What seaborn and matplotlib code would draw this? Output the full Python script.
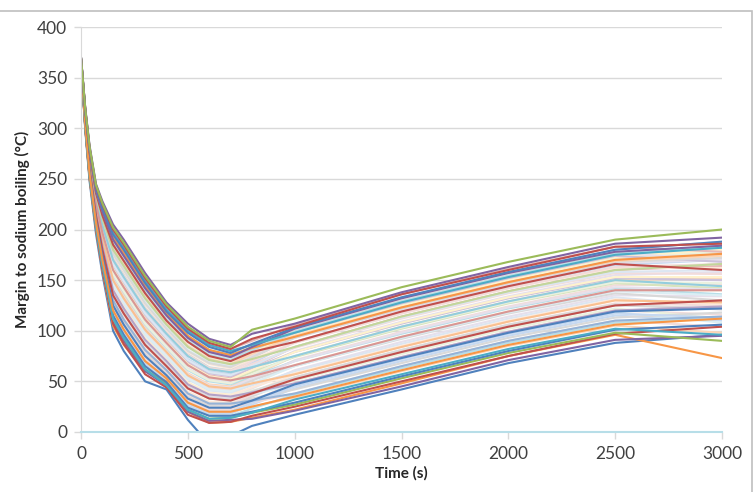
import pandas as pd
import matplotlib.pyplot as plt
import seaborn as sns
from matplotlib.patches import Rectangle

# time axis of every run (s)
time_s = [0, 20, 40, 70, 100, 150, 200, 300, 400, 500, 600, 700, 800, 1000, 1500, 2000, 2500, 3000]

# margin to sodium boiling (degC), pale runs filling the band
pale_runs = [
    [366, 302, 254, 206, 168, 117, 98, 67, 49, 26, 18, 18, 27, 43, 70, 95, 115, 110],
    [366, 303, 256, 208, 172, 122, 103, 72, 54, 31, 22, 22, 31, 48, 74, 99, 120, 116],
    [366, 304, 257, 210, 175, 127, 108, 78, 58, 35, 26, 26, 35, 52, 79, 104, 125, 122],
    [366, 305, 259, 212, 178, 132, 114, 83, 63, 40, 30, 29, 39, 57, 84, 109, 130, 128],
    [367, 306, 260, 214, 180, 135, 117, 86, 65, 43, 33, 31, 37, 47, 73, 98, 118, 108],
    [367, 306, 261, 215, 182, 137, 119, 88, 67, 45, 35, 33, 43, 61, 89, 114, 135, 134],
    [367, 307, 262, 216, 184, 140, 122, 91, 70, 47, 37, 35, 41, 51, 77, 102, 122, 112],
    [367, 307, 262, 217, 185, 142, 124, 93, 72, 49, 39, 37, 47, 66, 94, 119, 140, 140],
    [367, 308, 263, 218, 187, 145, 127, 96, 74, 52, 41, 39, 46, 60, 87, 112, 133, 124],
    [367, 308, 264, 219, 189, 147, 129, 98, 76, 54, 43, 41, 51, 71, 99, 124, 145, 146],
    [367, 309, 265, 220, 191, 150, 132, 101, 79, 56, 45, 43, 51, 65, 92, 117, 137, 130],
    [367, 309, 266, 221, 192, 152, 135, 103, 81, 58, 47, 45, 55, 75, 104, 129, 150, 152],
    [368, 310, 267, 223, 194, 155, 138, 106, 83, 61, 50, 47, 55, 70, 97, 122, 142, 136],
    [368, 310, 267, 224, 195, 157, 140, 108, 85, 63, 52, 49, 60, 80, 109, 134, 155, 158],
    [368, 311, 268, 225, 197, 160, 143, 111, 88, 66, 54, 51, 59, 74, 102, 127, 147, 142],
    [368, 311, 269, 226, 199, 162, 145, 113, 90, 68, 56, 53, 64, 84, 114, 139, 160, 164],
    [368, 312, 270, 227, 201, 165, 148, 116, 92, 70, 58, 55, 63, 79, 107, 132, 152, 150],
    [368, 312, 270, 228, 202, 167, 150, 118, 94, 72, 60, 57, 68, 89, 119, 144, 165, 170],
    [368, 313, 271, 229, 204, 170, 153, 121, 97, 75, 62, 59, 67, 83, 112, 137, 157, 156],
    [368, 313, 272, 230, 206, 172, 156, 123, 99, 77, 64, 61, 73, 94, 123, 148, 170, 176],
    [369, 314, 273, 232, 208, 175, 159, 126, 101, 79, 67, 63, 72, 88, 117, 142, 162, 162],
    [369, 314, 274, 233, 209, 177, 161, 129, 103, 81, 69, 65, 77, 98, 128, 153, 175, 182],
    [369, 315, 275, 234, 211, 180, 164, 132, 106, 84, 71, 67, 76, 93, 121, 146, 167, 170],
    [369, 315, 275, 235, 212, 182, 166, 134, 108, 86, 73, 68, 78, 97, 126, 151, 172, 178],
    [369, 316, 276, 236, 214, 185, 169, 137, 110, 89, 75, 70, 79, 96, 125, 150, 173, 180],
    [369, 316, 277, 237, 216, 187, 171, 139, 112, 91, 77, 72, 83, 103, 133, 158, 180, 188],
    [366, 304, 257, 209, 174, 125, 106, 75, 56, 33, 24, 24, 29, 38, 65, 90, 110, 104],
    [366, 305, 258, 211, 177, 130, 111, 81, 61, 38, 28, 28, 33, 42, 68, 93, 113, 118],
    [366, 303, 255, 207, 170, 120, 101, 70, 52, 29, 20, 20, 25, 34, 60, 85, 105, 98],
    [366, 302, 253, 205, 167, 115, 96, 65, 47, 24, 16, 16, 23, 37, 63, 88, 108, 112],
    [370, 318, 280, 241, 221, 195, 180, 147, 119, 98, 84, 78, 86, 100, 130, 155, 177, 170],
    [369, 317, 279, 239, 219, 192, 177, 144, 117, 95, 81, 76, 84, 99, 129, 154, 176, 184],
    [370, 319, 281, 243, 225, 200, 185, 152, 124, 102, 88, 82, 90, 106, 136, 161, 183, 178],
    [369, 317, 278, 238, 218, 190, 174, 142, 115, 93, 79, 74, 81, 98, 127, 152, 174, 168],
    [366, 302, 255, 207, 170, 119, 100, 69, 51, 28, 20, 20, 29, 45, 72, 97, 117, 113],
    [366, 304, 258, 211, 176, 129, 111, 80, 60, 37, 28, 27, 37, 54, 81, 106, 127, 125],
    [367, 306, 260, 214, 181, 136, 118, 87, 66, 44, 34, 32, 40, 54, 81, 106, 126, 121],
    [367, 307, 262, 216, 184, 141, 123, 92, 71, 48, 38, 36, 44, 58, 85, 110, 131, 126],
    [367, 308, 263, 218, 188, 146, 128, 97, 75, 53, 42, 40, 48, 65, 93, 118, 139, 135],
    [367, 309, 265, 220, 191, 151, 133, 102, 80, 57, 46, 44, 53, 70, 98, 123, 143, 141],
    [368, 310, 267, 223, 194, 156, 139, 107, 84, 62, 51, 48, 57, 75, 103, 128, 148, 147],
    [368, 311, 268, 225, 198, 161, 144, 112, 89, 67, 55, 52, 61, 79, 108, 133, 153, 153],
    [368, 312, 270, 227, 201, 166, 149, 117, 93, 71, 59, 56, 65, 84, 113, 138, 158, 160],
    [368, 313, 271, 229, 205, 171, 154, 122, 98, 76, 63, 60, 70, 88, 117, 142, 163, 166],
    [369, 314, 273, 232, 208, 176, 160, 127, 102, 80, 68, 64, 74, 93, 122, 147, 168, 172],
    [369, 315, 275, 234, 211, 181, 165, 133, 107, 85, 72, 67, 77, 95, 123, 148, 169, 174],
    [369, 316, 276, 236, 215, 186, 170, 138, 111, 90, 76, 71, 81, 99, 129, 154, 176, 184],
]
pale_palette = ['#C6D9F1', '#F2DCDB', '#D9D9D9', '#FDE9D9', '#DBEEF4', '#E6E0EC',
                '#EBF1DE', '#FFF2CC', '#DCE6F2', '#F2DCDB', '#D9D9D9', '#FCD5B5',
                '#B7DEE8', '#E6E0EC', '#D7E4BD', '#E6B9B8', '#CCC1DA']

# runs in mid tints, plus two strong ones inside the band
mid_runs = [
    [367, 309, 265, 220, 191, 150, 132, 101, 79, 56, 45, 43, 48, 57, 84, 109, 130, 128],
    [368, 313, 271, 229, 204, 170, 153, 121, 97, 75, 62, 59, 64, 75, 104, 129, 150, 144],
    [368, 311, 268, 225, 197, 160, 143, 111, 88, 66, 54, 51, 55, 66, 94, 119, 140, 140],
    [367, 307, 262, 216, 184, 140, 122, 91, 70, 47, 37, 35, 39, 48, 74, 99, 120, 124],
    [369, 315, 275, 234, 211, 180, 164, 132, 106, 84, 71, 67, 72, 84, 114, 139, 160, 166],
    [366, 305, 258, 211, 177, 130, 111, 81, 61, 38, 28, 28, 31, 38, 65, 90, 110, 114],
    [367, 306, 260, 214, 180, 135, 117, 86, 65, 43, 33, 31, 38, 52, 79, 104, 125, 130],
    [366, 304, 257, 209, 174, 125, 106, 75, 56, 33, 24, 24, 31, 47, 73, 98, 119, 122],
]
mid_colors = ['#FAC090', '#93CDDD', '#D99694', '#B3A2C7', '#C3D69B', '#95B3D7',
              '#C0504D', '#4F81BD']

# runs along the lower and upper edges of the band
edge_runs = [
    [365, 298, 248, 196, 156, 100, 80, 50, 42, 12, -12, -4, 6, 17, 42, 68, 88, 96],
    [365, 300, 250, 200, 160, 105, 86, 60, 50, 20, 9, 10, 14, 22, 48, 75, 96, 73],
    [365, 301, 252, 202, 163, 110, 90, 60, 46, 20, 11, 12, 13, 21, 45, 71, 91, 95],
    [365, 300, 251, 201, 161, 107, 87, 57, 44, 17, 9, 10, 16, 25, 50, 75, 97, 104],
    [365, 301, 252, 203, 165, 112, 93, 62, 47, 22, 13, 14, 19, 27, 53, 78, 98, 90],
    [366, 302, 253, 205, 167, 115, 96, 65, 49, 24, 16, 16, 20, 29, 55, 80, 101, 106],
    [365, 301, 252, 203, 165, 112, 93, 62, 46, 22, 13, 14, 19, 32, 57, 82, 102, 96],
    [366, 303, 255, 207, 170, 120, 101, 70, 53, 29, 20, 20, 25, 35, 61, 86, 106, 112],
    [369, 316, 276, 236, 214, 185, 169, 137, 110, 89, 75, 70, 79, 89, 119, 144, 166, 160],
    [369, 317, 279, 239, 219, 192, 177, 144, 117, 95, 81, 76, 83, 94, 123, 148, 170, 176],
    [369, 317, 278, 238, 218, 190, 174, 142, 115, 93, 79, 74, 84, 102, 132, 157, 178, 184],
    [370, 318, 280, 242, 223, 197, 182, 149, 121, 100, 86, 80, 86, 98, 128, 153, 175, 182],
    [370, 318, 280, 241, 221, 195, 180, 147, 119, 98, 84, 78, 87, 103, 133, 158, 180, 188],
    [370, 319, 281, 243, 225, 200, 185, 152, 124, 102, 88, 82, 92, 104, 136, 160, 183, 186],
    [370, 320, 283, 245, 228, 205, 190, 157, 128, 107, 92, 86, 97, 107, 138, 163, 186, 192],
    [370, 319, 282, 244, 226, 202, 187, 154, 126, 104, 90, 84, 101, 112, 143, 168, 190, 200],
]
edge_colors = ['#4F81BD', '#F79646', '#8064A2', '#C0504D', '#9BBB59', '#4F81BD',
               '#4BACC6', '#F79646', '#C0504D', '#F79646', '#8064A2', '#4BACC6',
               '#4F81BD', '#C0504D', '#8064A2', '#9BBB59']

pale_colors = (pale_palette * 3)[:len(pale_runs)]

# long table for seaborn, drawn in the order above
rows = []
palette = {}
order = []
for runs, cols in [(pale_runs, pale_colors), (mid_runs, mid_colors), (edge_runs, edge_colors)]:
    for vals, c in zip(runs, cols):
        name = 'run %d' % (len(order) + 1)
        order.append(name)
        palette[name] = c
        for t, v in zip(time_s, vals):
            rows.append((name, t, v))
df = pd.DataFrame(rows, columns=['run', 'time', 'margin'])

sns.set_style('white')
plt.rcParams['font.family'] = ['Lato', 'DejaVu Sans']

fig = plt.figure(figsize=(7.55, 4.92), dpi=100)
ax = fig.add_axes([0.1073, 0.122, 0.849, 0.823])
ax.yaxis.grid(True, color='#D9D9D9', linewidth=1)
ax.set_axisbelow(True)

sns.lineplot(data=df, x='time', y='margin', hue='run', hue_order=order, palette=palette,
             estimator=None, sort=False, legend=False, linewidth=1.5, ax=ax)

ax.set_xlim(0, 3000)
ax.set_ylim(0, 400)
ax.set_xticks(range(0, 3001, 500))
ax.set_yticks(range(0, 401, 50))
ax.tick_params(axis='both', labelsize=12.5, labelcolor='#404040', color='#D9D9D9',
               direction='out', length=5, width=1, pad=5)
ax.tick_params(axis='x', bottom=True)
ax.tick_params(axis='y', left=True)
for s in ['top', 'right']:
    ax.spines[s].set_visible(False)
ax.spines['left'].set_color('#D9D9D9')
ax.spines['bottom'].set_color('#B7DEE8')
ax.spines['bottom'].set_linewidth(1.5)

ax.set_xlabel('Time (s)', fontsize=11, fontweight='bold', labelpad=3)
ax.set_ylabel('Margin to sodium boiling (°C)', fontsize=11, fontweight='bold', labelpad=5)

# chart area border
fig.add_artist(Rectangle((-0.01, -0.01), 1.006, 0.988, transform=fig.transFigure,
                         fill=False, edgecolor='#BFBFBF', linewidth=1.2))

plt.savefig('out.png', dpi=100)
